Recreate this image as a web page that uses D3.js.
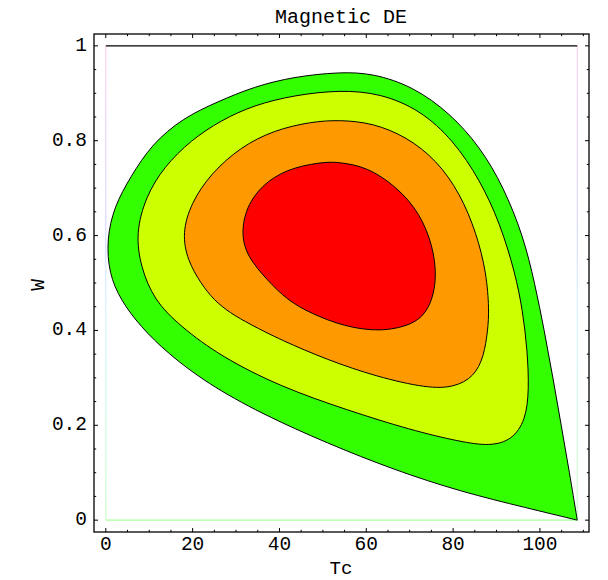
<!DOCTYPE html>
<html>
<head>
<meta charset="utf-8">
<script src="https://cdn.jsdelivr.net/npm/d3@7"></script>
<style>
  html, body { margin: 0; padding: 0; background: #ffffff; }
  svg { display: block; }
</style>
</head>
<body>
<svg id="chart" width="608" height="580"></svg>
<script>
// ---- data (Tc, W) ----
const title = "Magnetic DE";
const xLabel = "Tc";
const yLabel = "W";
const xTicks = [0, 20, 40, 60, 80, 100];
const xTickLabels = ["0", "20", "40", "60", "80", "100"];
const yTicks = [0, 0.2, 0.4, 0.6, 0.8, 1];
const yTickLabels = ["0", "0.2", "0.4", "0.6", "0.8", "1"];
const xMinorTicks = [5, 10, 15, 25, 30, 35, 45, 50, 55, 65, 70, 75, 85, 90, 95, 105, 110];
const yMinorTicks = [0.05, 0.1, 0.15, 0.25, 0.3, 0.35, 0.45, 0.5, 0.55, 0.65, 0.7, 0.75, 0.85, 0.9, 0.95];
const tcMax = 108.6;

const levelColors = ["#33ff00", "#ccff00", "#ff9900", "#ff0000"];

// outermost level: starts and ends at the tip (Tc max, W = 0)
const contour1 = [
  [108.6, 0], [108.6, 0], [106.8, 0.1], [104.9, 0.2], [103.0, 0.3], [101.0, 0.4],
  [98.8, 0.5], [96.2, 0.598], [91.6, 0.703], [86.2, 0.787], [79.3, 0.858],
  [70.8, 0.914], [61.6, 0.942], [53.95, 0.945], [43.35, 0.935], [34.1, 0.914],
  [25.7, 0.882], [17.8, 0.848], [10.6, 0.793], [5.7, 0.724], [1.9, 0.661],
  [0.2, 0.591], [0.74, 0.520], [3.4, 0.464], [8.0, 0.408], [14.2, 0.352],
  [23.4, 0.288], [35.7, 0.225], [51.0, 0.162], [66.4, 0.106], [81.75, 0.060],
  [97.1, 0.0255], [108.6, 0], [108.6, 0]
];
const contour2 = [
  [53.95, 0.907], [63.2, 0.900], [72.4, 0.865], [80.05, 0.801], [86.2, 0.717],
  [90.8, 0.626], [94.3, 0.521], [96.0, 0.443], [97.1, 0.359], [97.5, 0.274],
  [96.7, 0.211], [93.6, 0.169], [88.5, 0.156], [81.75, 0.165], [70.2, 0.190],
  [55.6, 0.232], [40.3, 0.281], [26.5, 0.345], [17.25, 0.408], [11.1, 0.464],
  [8.04, 0.534], [6.9, 0.605], [9.2, 0.682], [13.4, 0.745], [19.6, 0.801],
  [26.5, 0.843], [34.1, 0.875], [43.35, 0.896]
];
const contour3 = [
  [53.95, 0.844], [61.6, 0.837], [69.3, 0.808], [76.2, 0.759], [81.6, 0.689],
  [85.4, 0.605], [87.7, 0.520], [88.3, 0.443], [88.0, 0.401], [87.1, 0.345],
  [84.8, 0.302], [80.2, 0.280], [74.1, 0.278], [62.5, 0.302], [51.0, 0.338],
  [40.3, 0.380], [33.2, 0.413], [28.6, 0.437], [24.9, 0.464], [21.9, 0.499],
  [18.8, 0.548], [17.6, 0.605], [19.6, 0.668], [24.2, 0.731], [31.1, 0.787],
  [38.7, 0.822], [47.2, 0.840]
];
const contour4 = [
  [53.95, 0.754], [60.1, 0.745], [67.0, 0.703], [72.4, 0.647], [75.4, 0.576],
  [76.2, 0.513], [75.2, 0.464], [73.3, 0.432], [70.2, 0.411], [63.3, 0.397],
  [54.9, 0.408], [47.2, 0.436], [41.8, 0.464], [37.2, 0.506], [32.6, 0.555],
  [31.1, 0.605], [32.6, 0.668], [37.2, 0.717], [43.35, 0.745], [51.0, 0.756]
];

// ---- layout ----
const fontFamily = "'Courier New', 'Liberation Mono', 'DejaVu Sans Mono', monospace";
const frame = { left: 94, right: 589, top: 34, bottom: 532 };
const svg = d3.select("#chart");

const x = d3.scaleLinear().domain([-2.72, 111.3]).range([frame.left, frame.right]);
const y = d3.scaleLinear().domain([-0.025, 1.025]).range([frame.bottom, frame.top]);

const defs = svg.append("defs");
const grad = defs.append("linearGradient")
  .attr("id", "edgeGrad").attr("x1", 0).attr("y1", 0).attr("x2", 0).attr("y2", 1);
grad.append("stop").attr("offset", "0%").attr("stop-color", "#ffc8ee");
grad.append("stop").attr("offset", "35%").attr("stop-color", "#d4d0ff");
grad.append("stop").attr("offset", "60%").attr("stop-color", "#ccf6ff");
grad.append("stop").attr("offset", "100%").attr("stop-color", "#c0ffb8");

// domain edge lines
const g = svg.append("g");
g.append("rect")
  .attr("x", x(0) - 0.5).attr("y", y(1))
  .attr("width", 1).attr("height", y(0) - y(1))
  .attr("fill", "url(#edgeGrad)");
g.append("rect")
  .attr("x", x(tcMax) - 0.5).attr("y", y(1))
  .attr("width", 1).attr("height", y(0) - y(1))
  .attr("fill", "url(#edgeGrad)");
g.append("line")
  .attr("x1", x(0)).attr("x2", x(tcMax)).attr("y1", y(0)).attr("y2", y(0))
  .attr("stroke", "#a8ff98").attr("stroke-width", 1.2);
g.append("line")
  .attr("x1", x(0)).attr("x2", x(tcMax)).attr("y1", y(1)).attr("y2", y(1))
  .attr("stroke", "#000").attr("stroke-width", 1.2);

// contours (smooth B-spline through the read points)
const openLine = d3.line().x(d => x(d[0])).y(d => y(d[1])).curve(d3.curveBasis);
const closedLine = d3.line().x(d => x(d[0])).y(d => y(d[1])).curve(d3.curveBasisClosed);

g.append("path")
  .attr("d", openLine(contour1) + "Z")
  .attr("fill", levelColors[0]).attr("stroke", "#000").attr("stroke-width", 1)
  .attr("stroke-linejoin", "miter");
[contour2, contour3, contour4].forEach((c, i) => {
  g.append("path")
    .attr("d", closedLine(c))
    .attr("fill", levelColors[i + 1]).attr("stroke", "#000").attr("stroke-width", 1);
});

// frame
svg.append("rect")
  .attr("x", frame.left).attr("y", frame.top)
  .attr("width", frame.right - frame.left).attr("height", frame.bottom - frame.top)
  .attr("fill", "none").attr("stroke", "#000").attr("stroke-width", 1.3);

// ticks (inward, on all four sides)
const majorLen = 4, minorLen = 2.2;
const tg = svg.append("g").attr("stroke", "#000").attr("stroke-width", 1);
function xt(vals, len) {
  vals.forEach(v => {
    tg.append("line").attr("x1", x(v)).attr("x2", x(v))
      .attr("y1", frame.bottom).attr("y2", frame.bottom - len);
    tg.append("line").attr("x1", x(v)).attr("x2", x(v))
      .attr("y1", frame.top).attr("y2", frame.top + len);
  });
}
function yt(vals, len) {
  vals.forEach(v => {
    tg.append("line").attr("y1", y(v)).attr("y2", y(v))
      .attr("x1", frame.left).attr("x2", frame.left + len);
    tg.append("line").attr("y1", y(v)).attr("y2", y(v))
      .attr("x1", frame.right).attr("x2", frame.right - len);
  });
}
xt(xTicks, majorLen); xt(xMinorTicks, minorLen);
yt(yTicks, majorLen); yt(yMinorTicks, minorLen);

// tick labels
const fs = 19.5;
svg.append("g").selectAll("text").data(xTicks).join("text")
  .attr("x", d => x(d)).attr("y", 550)
  .attr("text-anchor", "middle").attr("font-size", fs).attr("font-family", fontFamily)
  .text((d, i) => xTickLabels[i]);
svg.append("g").selectAll("text").data(yTicks).join("text")
  .attr("x", 87).attr("y", d => y(d) + 5)
  .attr("text-anchor", "end").attr("font-size", fs).attr("font-family", fontFamily)
  .text((d, i) => yTickLabels[i]);

// titles
svg.append("text").attr("x", 341).attr("y", 23)
  .attr("text-anchor", "middle").attr("font-size", 20).attr("font-family", fontFamily)
  .text(title);
svg.append("text").attr("x", 341).attr("y", 574)
  .attr("text-anchor", "middle").attr("font-size", 19).attr("font-family", fontFamily)
  .text(xLabel);
svg.append("text")
  .attr("transform", "translate(44,285) rotate(-90)")
  .attr("text-anchor", "middle").attr("font-size", fs).attr("font-family", fontFamily)
  .text(yLabel);
</script>
</body>
</html>
